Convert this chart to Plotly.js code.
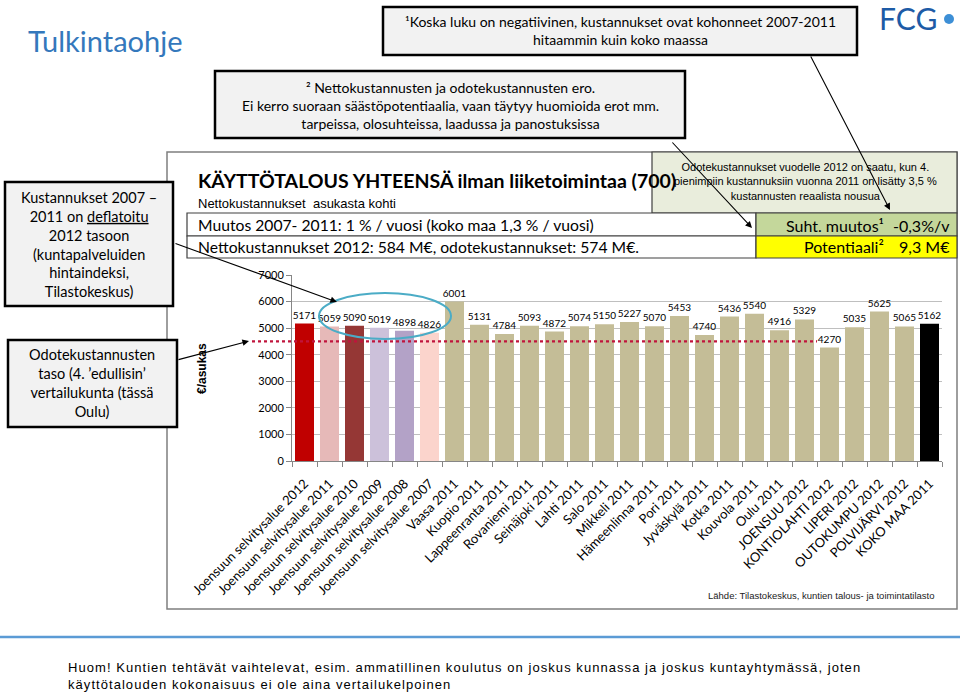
<!DOCTYPE html>
<html><head><meta charset="utf-8">
<script src="https://cdn.plot.ly/plotly-3.0.1.min.js"></script>
<style>html,body{margin:0;padding:0;background:#fff}#chart{width:960px;height:693px}</style>
</head><body><div id="chart"></div>
<script>
const categories = [
  "Joensuun selvitysalue 2012","Joensuun selvitysalue 2011","Joensuun selvitysalue 2010",
  "Joensuun selvitysalue 2009","Joensuun selvitysalue 2008","Joensuun selvitysalue 2007",
  "Vaasa 2011","Kuopio 2011","Lappeenranta 2011","Rovaniemi 2011","Seinäjoki 2011",
  "Lahti 2011","Salo 2011","Mikkeli 2011","Hämeenlinna 2011","Pori 2011","Jyväskylä 2011",
  "Kotka 2011","Kouvola 2011","Oulu 2011","JOENSUU 2012","KONTIOLAHTI 2012","LIPERI 2012",
  "OUTOKUMPU 2012","POLVIJÄRVI 2012","KOKO MAA 2011"
];
const values = [5171,5059,5090,5019,4898,4826,6001,5131,4784,5093,4872,5074,5150,5227,5070,
  5453,4740,5436,5540,4916,5329,4270,5035,5625,5065,5162];
const barColors = ["#C00000","#E6B9B8","#953735","#CCC1DA","#B3A2C7","#FBD4CC",
  "#C4BD97","#C4BD97","#C4BD97","#C4BD97","#C4BD97","#C4BD97","#C4BD97","#C4BD97","#C4BD97",
  "#C4BD97","#C4BD97","#C4BD97","#C4BD97","#C4BD97","#C4BD97","#C4BD97","#C4BD97","#C4BD97",
  "#C4BD97","#000000"];
const expectedLevel = 4500;        // odotekustannusten taso (dotted line)
const expectedLastIndex = 20;      // line runs through JOENSUU 2012
const yMax = 7000;
const yTickStep = 1000;

// pixel -> paper helpers
const L = 292, R = 942, T = 275, B = 461;
const X = p => (p - L) / (R - L);
const Y = p => (B - p) / (B - T);

const trace = {
  type: 'bar', x: categories, y: values,
  marker: {color: barColors, line: {width: 0}},
  text: values.map(String), textposition: 'outside', cliponaxis: false,
  constraintext: 'none',
  textfont: {family: 'Lato, sans-serif', size: 10, color: '#000'},
  hoverinfo: 'none'
};

const BOX = '#F2F2F2';
function rect(x0,y0,x1,y1,fill,lc,lw,layer){
  return {type:'rect',xref:'paper',yref:'paper',x0:X(x0),y0:Y(y0),x1:X(x1),y1:Y(y1),
    fillcolor:fill||'rgba(0,0,0,0)',line:{color:lc||'#000',width:lw===undefined?2:lw},layer:layer||'above'};
}
const shapes = [
  rect(167,152,957,609,null,'#7F7F7F',1.5,'below'),
  rect(652,152,957,213,'#E9EDDC','#404040',1.2,'below'),
  rect(187,213,756,236,'#FFFFFF','#404040',1.2,'below'),
  rect(187,236,756,258,'#FFFFFF','#404040',1.2,'below'),
  rect(756,213,957,236,'#C4D79B','#404040',1.2,'below'),
  rect(756,236,957,258,'#FFFF00','#404040',1.2,'below'),
  {type:'line',xref:'paper',yref:'paper',x0:X(0),x1:X(960),y0:Y(637),y1:Y(637),line:{color:'#5B9BD5',width:2.5}},
  rect(383,7,857,55,BOX,'#000',2.5),
  rect(215,71,685,138,BOX,'#000',2.5),
  rect(5,182,173,306,BOX,'#000',2.5),
  rect(8,340,177,427,BOX,'#000',2.5),
  {type:'circle',xref:'paper',yref:'paper',x0:X(319),x1:X(451),y0:Y(293),y1:Y(339),line:{color:'#4BACC6',width:2}},
  {type:'line',xref:'paper',yref:'paper',x0:X(252),x1:(expectedLastIndex+1)/categories.length,
    y0:expectedLevel/yMax,y1:expectedLevel/yMax,line:{color:'#C0143C',width:2.2,dash:'dot'}},
  {type:'circle',xref:'paper',yref:'paper',x0:X(944),x1:X(954),y0:Y(14),y1:Y(24),fillcolor:'#3D8FD6',line:{width:0}}
];

const CAL = 'Lato, sans-serif';
const ARI = 'Liberation Sans, Arial, sans-serif';
function txt(x,y,text,size,opts){
  opts = opts||{};
  return Object.assign({xref:'paper',yref:'paper',x:X(x),y:Y(y),text:text,showarrow:false,
    xanchor:'center',yanchor:'middle',align:'center',
    font:{family:opts.family||CAL,size:size,color:opts.color||'#000'}},opts.extra||{});
}
function arrow(x1,y1,x2,y2){
  return {xref:'paper',yref:'paper',x:X(x2),y:Y(y2),ax:x1-x2,ay:y1-y2,text:'',showarrow:true,
    arrowhead:2,arrowsize:1.2,arrowwidth:1.1,arrowcolor:'#000'};
}
const annotations = [
  txt(105,41,'Tulkintaohje',29,{color:'#3478BC'}),
  txt(908,18,'FCG',30,{color:'#1D5BA6'}),
  txt(620,31,'¹Koska luku on negatiivinen, kustannukset ovat kohonneet 2007-2011<br>hitaammin kuin koko maassa',14),
  txt(450,105,'² Nettokustannusten ja odotekustannusten ero.<br>Ei kerro suoraan säästöpotentiaalia, vaan täytyy huomioida erot mm.<br>tarpeissa, olosuhteissa, laadussa ja panostuksissa',14),
  txt(89,244,'Kustannukset 2007 –<br>2011 on <span style="text-decoration:underline">deflatoitu</span><br>2012 tasoon<br>(kuntapalveluiden<br>hintaindeksi,<br>Tilastokeskus)',14.5),
  txt(92,383,'Odotekustannusten<br>taso (4. ’edullisin’<br>vertailukunta (tässä<br>Oulu)',14.5),
  txt(805,181,'Odotekustannukset vuodelle 2012 on saatu, kun 4.<br>pienimpiin kustannuksiin vuonna 2011 on lisätty 3,5 %<br>kustannusten reaalista nousua',11,{family:ARI}),
  txt(196,180,'<b>KÄYTTÖTALOUS YHTEENSÄ ilman liiketoimintaa (700)</b>',19.5,{extra:{xanchor:'left'}}),
  txt(196,203,'Nettokustannukset  asukasta kohti',13,{family:ARI,extra:{xanchor:'left'}}),
  txt(196,225,'Muutos 2007- 2011: 1 % / vuosi (koko maa 1,3 % / vuosi)',15.7,{extra:{xanchor:'left'}}),
  txt(196,247,'Nettokustannukset 2012: 584 M€, odotekustannukset: 574 M€.',15.7,{extra:{xanchor:'left'}}),
  txt(886,225,'Suht. muutos¹',16,{extra:{xanchor:'right'}}),
  txt(952,225,'-0,3%/v',16,{extra:{xanchor:'right'}}),
  txt(886,247,'Potentiaali²',16,{extra:{xanchor:'right'}}),
  txt(952,247,'9,3 M€',16,{extra:{xanchor:'right'}}),
  txt(202,369,'<b>€/asukas</b>',12,{family:ARI,extra:{textangle:-90}}),
  txt(937,595,'Lähde: Tilastokeskus, kuntien talous- ja toimintatilasto',9.5,{family:ARI,color:'#222',extra:{xanchor:'right'}}),
  txt(66,676,'<span style="letter-spacing:1.05px">Huom! Kuntien tehtävät vaihtelevat, esim. ammatillinen koulutus on joskus kunnassa ja joskus kuntayhtymässä, joten</span><br><span style="letter-spacing:1.05px">käyttötalouden kokonaisuus ei ole aina vertailukelpoinen</span>',13,{family:ARI,extra:{xanchor:'left',align:'left'}}),
  arrow(810,55,890,210),
  arrow(671,141,752,228),
  arrow(174,243,337,302),
  arrow(177,360,249,341)
];

const yTicks = [];
for (let v = 0; v <= yMax; v += yTickStep) yTicks.push(v);

const layout = {
  width:960, height:693,
  margin:{l:L, r:960-R, t:T, b:693-B},
  paper_bgcolor:'#fff', plot_bgcolor:'#fff',
  showlegend:false, bargap:0.24, hovermode:false,
  font:{family:CAL,color:'#000'},
  xaxis:{type:'category', tickangle:-45, tickson:'boundaries', ticks:'outside', ticklen:5,
    tickcolor:'#868686', showline:true, linecolor:'#868686', linewidth:1, showgrid:false,
    ticklabelstandoff:9,
    tickfont:{family:CAL,size:13,color:'#000'}, automargin:false},
  yaxis:{range:[0,yMax], tickvals:yTicks, ticks:'outside', ticklen:5, tickcolor:'#868686',
    showline:true, linecolor:'#868686', linewidth:1, gridcolor:'#BFBFBF', gridwidth:1,
    zeroline:false, tickfont:{family:CAL,size:11,color:'#000'}, automargin:false},
  shapes:shapes, annotations:annotations
};
Plotly.newPlot('chart',[trace],layout,{displayModeBar:false,staticPlot:true});
</script></body></html>
